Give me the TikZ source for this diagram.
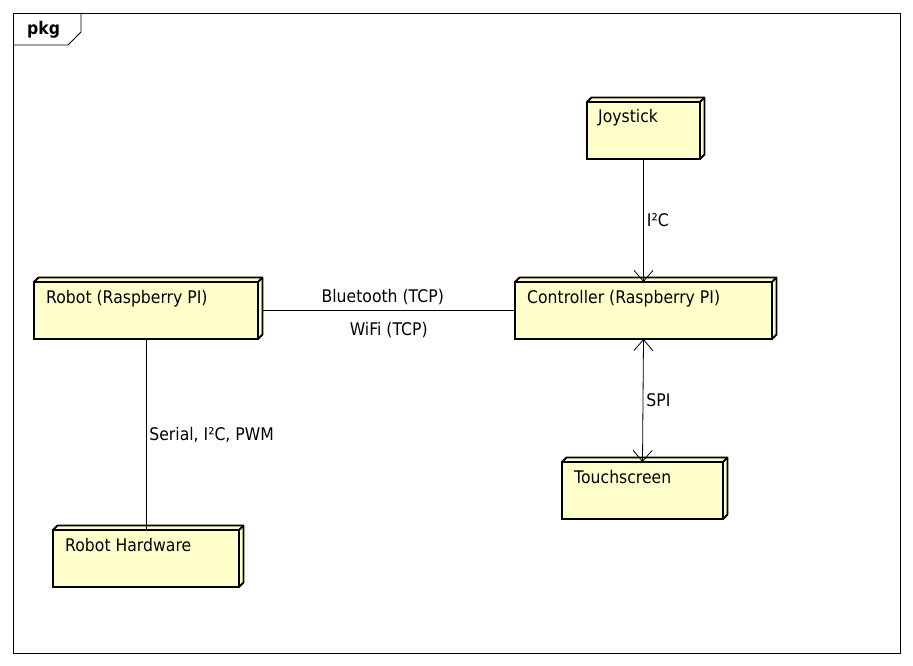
\documentclass[tikz,border=0pt]{standalone}
\usepackage{fontspec}
\setmainfont{DejaVu Sans}[FakeStretch=0.9]
\usetikzlibrary{arrows.meta,calc}
\definecolor{nodeyellow}{RGB}{255,255,204}
\tikzset{
  every node/.style={font=\fontsize{17.4}{20}\selectfont},
  nodebox/.style={draw, line width=2.4pt, fill=nodeyellow, anchor=north west,
    inner sep=0pt, outer sep=0pt, minimum height=57pt},
  boxtext/.style={anchor=base west, inner sep=0pt},
  link/.style={line width=0.8pt},
  lbl/.style={inner sep=3pt},
  barb/.tip={Straight Barb[length=11pt,width=19pt]}
}
% depth faces of a node box
\newcommand{\depthbox}[1]{%
  \filldraw[fill=nodeyellow, line width=1.8pt, line join=round]
    (#1.north west) -- ++(4.5pt,4.5pt) -- ([shift={(4.5pt,4.5pt)}]#1.north east)
    -- ([shift={(4.5pt,4.5pt)}]#1.south east) -- (#1.south east) -- (#1.north east) -- cycle;
  \draw[line width=1.8pt] (#1.north east) -- ++(4.5pt,4.5pt);
}

\begin{document}
\begin{tikzpicture}[x=1pt,y=-1pt]
  \useasboundingbox (0,0) rectangle (913,666);

  % package frame
  \draw[link] (13,13) rectangle (900,653);
  \draw[link] (81,13) -- (81,32) -- (68,45) -- (13,45);
  \node[anchor=base west, inner sep=0pt, font=\fontsize{17.4}{20}\selectfont\bfseries] (pkg) at (27,35) {pkg};

  % nodes
  \node[nodebox, minimum width=113pt] (joystick) at (587,102) {};
  \node[nodebox, minimum width=224pt] (robot) at (34,282) {};
  \node[nodebox, minimum width=257pt] (controller) at (515,282) {};
  \node[nodebox, minimum width=161pt] (touch) at (562,462) {};
  \node[nodebox, minimum width=186pt] (hardware) at (53,530) {};
  \foreach \n in {joystick,robot,controller,touch,hardware}
    \depthbox{\n};

  \node[boxtext] (joystick-t) at ([xshift=11pt,yshift=-21pt]joystick.north west) {Joystick};
  \node[boxtext] (robot-t) at ([xshift=12pt,yshift=-21pt]robot.north west) {Robot (Raspberry PI)};
  \node[boxtext] (controller-t) at ([xshift=12pt,yshift=-21pt]controller.north west) {Controller (Raspberry PI)};
  \node[boxtext] (touch-t) at ([xshift=12pt,yshift=-21pt]touch.north west) {Touchscreen};
  \node[boxtext] (hardware-t) at ([xshift=12pt,yshift=-21pt]hardware.north west) {Robot Hardware};

  % connectors
  \draw[link] ([xshift=4.5pt]robot.east) -- node[lbl, above, xshift=-6pt, yshift=2pt] (bt) {Bluetooth (TCP)}
    node[lbl, below, yshift=-8pt] (wifi) {WiFi (TCP)} (controller.west);
  \draw[link] (robot.south) -- node[lbl, right] (serial) {Serial, I²C, PWM} (hardware.north);
  \draw[link, -barb] (joystick.south) -- node[lbl, right] (i2c) {I²C} (controller.north);
  \draw[link, barb-barb] (controller.south) -- node[lbl, right] (spi) {SPI} (touch.north);
\end{tikzpicture}
\end{document}
